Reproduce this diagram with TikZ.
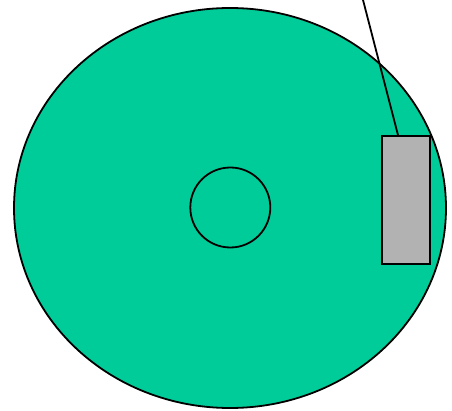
\documentclass[tikz,border=0pt]{standalone}
\usetikzlibrary{shapes.geometric}
\definecolor{platter}{HTML}{00CC99}
\definecolor{headgrey}{HTML}{B2B2B2}
\begin{document}
\begin{tikzpicture}[x=1pt,y=-1pt,
  outl/.style={draw=black,line width=1.8pt},
  disk/.style={outl,ellipse,fill=platter,minimum width=432pt,minimum height=400pt,inner sep=0pt},
  spindle/.style={outl,circle,minimum size=80pt,inner sep=0pt},
  headbox/.style={outl,rectangle,fill=headgrey,minimum width=48pt,minimum height=128pt,inner sep=0pt}]
\useasboundingbox (0,0) rectangle (452,411);
\node[disk] (platter) at (230,208) {};
\node[spindle] (hub) at (230.3,207.5) {};
\node[headbox] (head) at (406,200) {};
\coordinate (armend) at (362.5,-2);
\draw[black,line width=1.8pt] ([xshift=-8pt]head.north) -- (armend);
\end{tikzpicture}
\end{document}
